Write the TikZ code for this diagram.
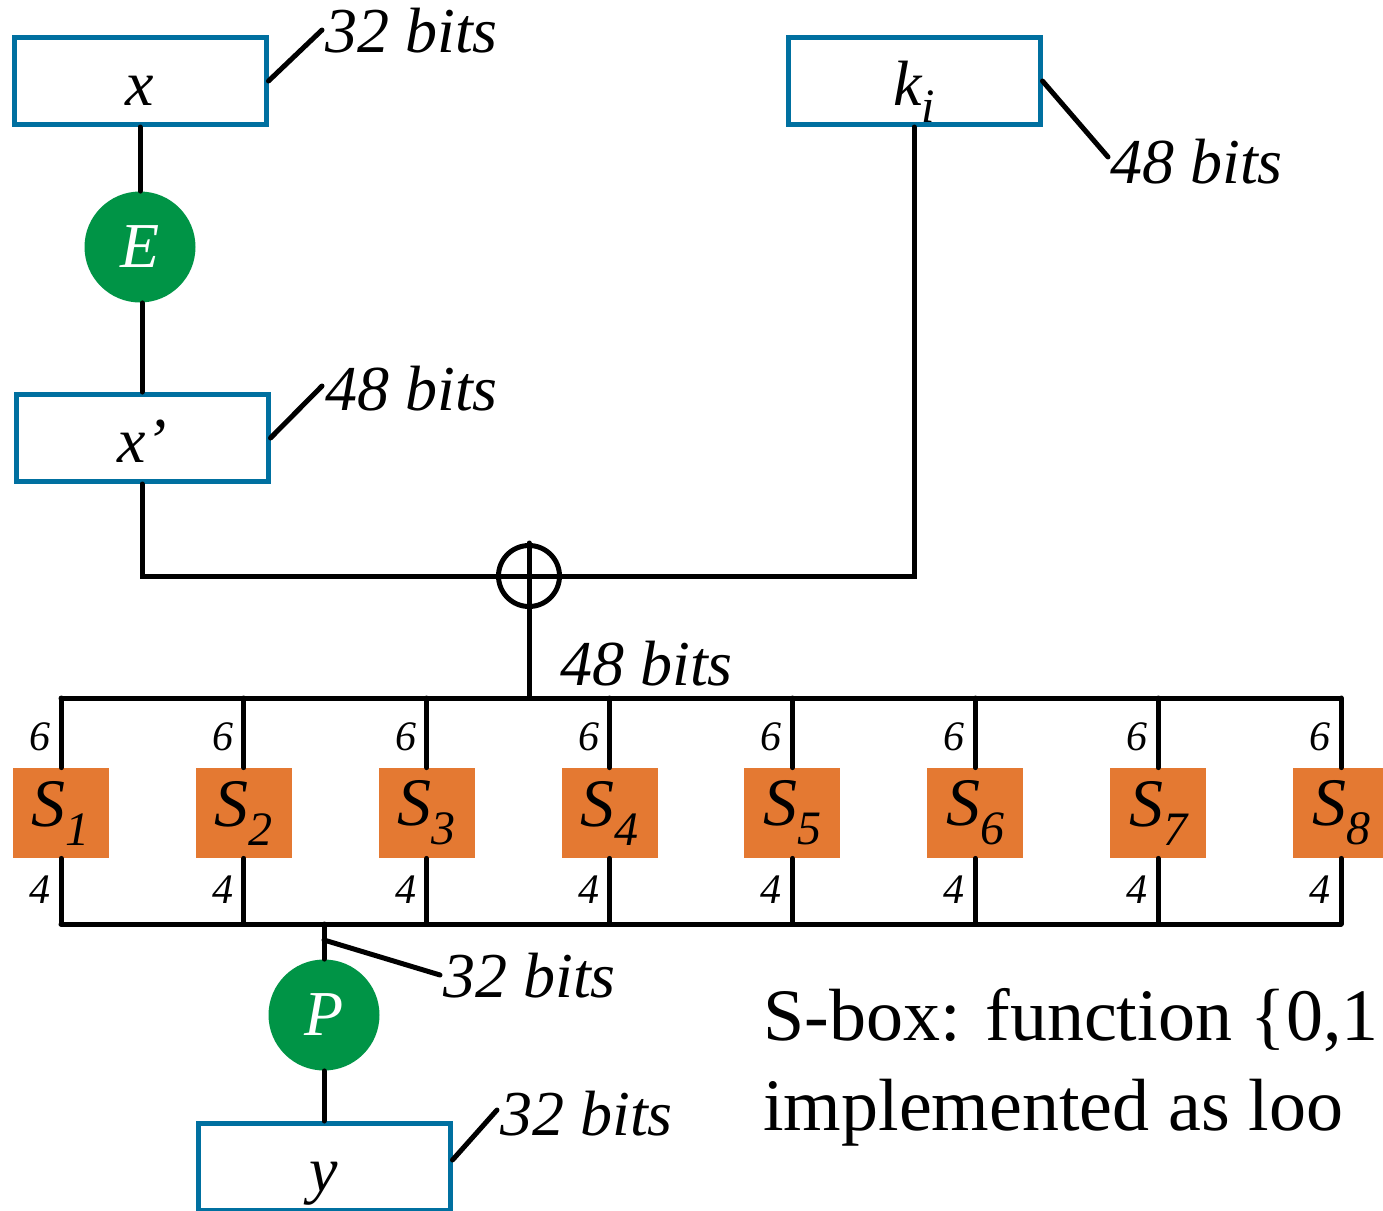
\documentclass[tikz,border=0pt]{standalone}
\usepackage{fontspec}
\setmainfont{Liberation Serif}
\usetikzlibrary{arrows.meta}
\definecolor{regblue}{HTML}{0070A0}
\definecolor{fgreen}{HTML}{009446}
\definecolor{sorange}{HTML}{E47932}
\newcommand{\lowidx}[1]{\raisebox{-0.28em}{\fontsize{24}{24}\selectfont\itshape #1}}

\begin{document}
\begin{tikzpicture}[
      x=0.5pt, y=-0.5pt,
      reg/.style={rectangle, draw=regblue, line width=2.5pt, fill=white,
                  minimum width=126pt, minimum height=43.5pt, inner sep=0pt,
                  text height=24pt, text depth=0pt,
                  font=\fontsize{32}{36}\selectfont\itshape},
      perm/.style={circle, fill=fgreen, minimum size=55.5pt, inner sep=0pt,
                   text=white, font=\fontsize{32}{36}\selectfont\itshape},
      xorop/.style={circle, draw, line width=2.5pt, minimum size=30.5pt, inner sep=0pt},
      sbox/.style={rectangle, fill=sorange, minimum width=48pt, minimum height=45pt,
                   inner sep=0pt, font=\fontsize{34}{36}\selectfont\itshape},
      wire/.style={line width=2.5pt, line cap=round},
      bits/.style={anchor=base west, inner sep=0pt, font=\fontsize{32}{34}\selectfont\itshape},
      lanes/.style={inner sep=0pt, font=\fontsize{21}{24}\selectfont\itshape},
      note/.style={anchor=base west, inner sep=0pt, align=left,
                   font=\fontsize{37}{45}\selectfont}
    ]
      \useasboundingbox (0,0) rectangle (1383,1211);

      % registers and permutations
      \node[reg] (x) at (140,81) {x};
      \node[perm] (E) at (140,247) {E};
      \node[reg] (xe) at (142,438) {x’};
      \node[reg] (k) at (914,81) {k\lowidx{i}};
      \node[xorop] (xor) at (529,576) {};
      \draw[wire] (xor.north) -- (xor.south);
      \draw[wire] (xor.west) -- (xor.east);

      \draw[wire] (x) -- (E);
      \draw[wire] (E.south -| xe.north) -- (xe);
      \draw[wire] (xe) |- (xor);
      \draw[wire] (k) |- (xor);

      % bit widths
      \coordinate (xt) at (322,30);
      \coordinate (xet) at (322,386);
      \coordinate (kt) at (1108,157);
      \draw[wire] (x.east) -- (xt);
      \draw[wire] (xe.east) -- (xet);
      \draw[wire] (k.east) -- (kt);
      \node[bits] (xw) at (325,52) {32 bits};
      \node[bits] (xew) at (325,410) {48 bits};
      \node[bits] (kw) at (1110,183) {48 bits};
      \node[bits] (sw) at (560,685) {48 bits};

      % S-boxes
      \coordinate (in) at (529,698);
      \draw[wire] (xor) -- (in);
      \foreach \i in {1,...,8} {
        \node[sbox] (s\i) at ({61+(\i-1)*182.857},813) {S\lowidx{\i}};
        \coordinate (t\i) at ({61+(\i-1)*182.857},698);
        \coordinate (b\i) at ({61+(\i-1)*182.857},924);
        \draw[wire] (t\i) -- (s\i);
        \draw[wire] (s\i) -- (b\i);
        \node[lanes] (six\i) at ({40+(\i-1)*182.857},737) {6};
        \node[lanes] (four\i) at ({40+(\i-1)*182.857},890) {4};
      }
      \draw[wire] (t1) -- (t8);
      \draw[wire] (b1) -- (b8);

      % output
      \node[perm] (P) at (324,1015) {P};
      \node[reg, anchor=north] (y) at (324,1121) {y};
      \coordinate (out) at (324,924);
      \coordinate (pa) at (324,940);
      \coordinate (pt) at (440,975);
      \coordinate (yt) at (497,1110);
      \draw[wire] (out) -- (P);
      \draw[wire] (P) -- (y);
      \draw[wire] (pa) -- (pt);
      \draw[wire] (y.east |- 0,1160) -- (yt);
      \node[bits] (pw) at (443,997) {32 bits};
      \node[bits] (yw) at (500,1135) {32 bits};

      \node[note] (sboxnote) at (763,1130) {S-box: function \{0,1\\implemented as loo};
    \end{tikzpicture}
\end{document}
